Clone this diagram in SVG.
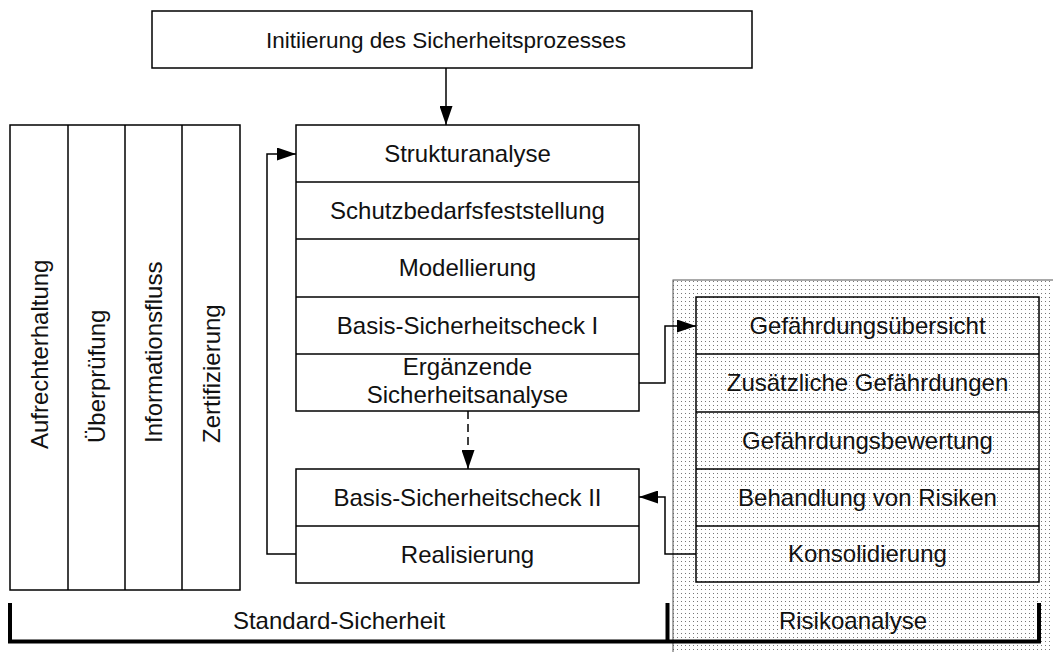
<svg xmlns="http://www.w3.org/2000/svg" width="1053" height="652" viewBox="0 0 1053 652">
  <defs>
    <pattern id="dots" x="0" y="0" width="4" height="4" patternUnits="userSpaceOnUse">
      <rect x="0" y="0" width="4" height="4" fill="#ffffff"/>
      <rect x="1" y="1" width="1" height="1" fill="#777777"/>
    </pattern>
    <marker id="arrow" markerUnits="userSpaceOnUse" markerWidth="19" markerHeight="13" refX="19" refY="6.5" orient="auto">
      <path d="M0,0 L19,6.5 L0,13 Z" fill="#000"/>
    </marker>
  </defs>
  <style>
    .box { fill: #ffffff; stroke: #000; stroke-width: 1.5; }
    .clear { fill: none; stroke: #000; stroke-width: 1.5; }
    .sep { stroke: #000; stroke-width: 1.5; }
    .lbl { font-family: "Liberation Sans", Arial, sans-serif; font-size: 24px; fill: #111; text-anchor: middle; }
    .title { font-size: 22.5px; }
    .vlbl { font-family: "Liberation Sans", Arial, sans-serif; font-size: 24px; fill: #111; text-anchor: start; }
    .conn { fill: none; stroke: #000; stroke-width: 1.5; }
    .brace { fill: none; stroke: #000; stroke-width: 4; stroke-linejoin: miter; }
  </style>

  <rect width="1053" height="652" fill="#ffffff"/>

  <!-- risk analysis background area -->
  <g id="risk-area">
    <rect x="673" y="280" width="390" height="380" fill="url(#dots)" stroke="#555" stroke-width="1"/>
  </g>

  <!-- start box -->
  <g id="init">
    <rect class="box" x="152" y="11" width="600" height="57"/>
    <text class="lbl title" x="446" y="47.5">Initiierung des Sicherheitsprozesses</text>
  </g>

  <!-- accompanying activities -->
  <g id="activities">
    <rect class="box" x="10" y="125" width="230" height="465"/>
    <line class="sep" x1="68" y1="125" x2="68" y2="590"/>
    <line class="sep" x1="125" y1="125" x2="125" y2="590"/>
    <line class="sep" x1="182" y1="125" x2="182" y2="590"/>
    <text class="vlbl" transform="translate(48,449) rotate(-90)">Aufrechterhaltung</text>
    <text class="vlbl" transform="translate(105,443) rotate(-90)">Überprüfung</text>
    <text class="vlbl" transform="translate(162,443) rotate(-90)">Informationsfluss</text>
    <text class="vlbl" transform="translate(219.5,443) rotate(-90)">Zertifizierung</text>
  </g>

  <!-- main process steps -->
  <g id="process">
    <rect class="box" x="296" y="125" width="343" height="286"/>
    <line class="sep" x1="296" y1="182" x2="639" y2="182"/>
    <line class="sep" x1="296" y1="239" x2="639" y2="239"/>
    <line class="sep" x1="296" y1="297" x2="639" y2="297"/>
    <line class="sep" x1="296" y1="354" x2="639" y2="354"/>
    <text class="lbl" x="467.5" y="161.5">Strukturanalyse</text>
    <text class="lbl" x="467.5" y="218.5">Schutzbedarfsfeststellung</text>
    <text class="lbl" x="467.5" y="276">Modellierung</text>
    <text class="lbl" x="467.5" y="333.5">Basis-Sicherheitscheck I</text>
    <text class="lbl" x="467.5" y="375">Ergänzende</text>
    <text class="lbl" x="467.5" y="403">Sicherheitsanalyse</text>
  </g>

  <g id="implementation">
    <rect class="box" x="296" y="469" width="343" height="114"/>
    <line class="sep" x1="296" y1="526" x2="639" y2="526"/>
    <text class="lbl" x="467.5" y="505.5">Basis-Sicherheitscheck II</text>
    <text class="lbl" x="467.5" y="562.5">Realisierung</text>
  </g>

  <!-- risk analysis steps -->
  <g id="risk-steps">
    <rect class="clear" x="696" y="297" width="343" height="285"/>
    <line class="sep" x1="696" y1="354" x2="1039" y2="354"/>
    <line class="sep" x1="696" y1="412" x2="1039" y2="412"/>
    <line class="sep" x1="696" y1="469" x2="1039" y2="469"/>
    <line class="sep" x1="696" y1="526" x2="1039" y2="526"/>
    <text class="lbl" x="867.5" y="333.5">Gefährdungsübersicht</text>
    <text class="lbl" x="867.5" y="391">Zusätzliche Gefährdungen</text>
    <text class="lbl" x="867.5" y="448.5">Gefährdungsbewertung</text>
    <text class="lbl" x="867.5" y="505.5">Behandlung von Risiken</text>
    <text class="lbl" x="867.5" y="562">Konsolidierung</text>
  </g>

  <!-- connectors -->
  <g id="connectors">
    <path class="conn" d="M446,68 V125" marker-end="url(#arrow)"/>
    <path class="conn" d="M296,554 H267 V154 H296" marker-end="url(#arrow)"/>
    <path class="conn" d="M468,411 V469" stroke-dasharray="8,5" marker-end="url(#arrow)"/>
    <path class="conn" d="M639,383 H665 V326 H696" marker-end="url(#arrow)"/>
    <path class="conn" d="M696,554 H665 V497 H639" marker-end="url(#arrow)"/>
  </g>

  <!-- bottom brackets -->
  <g id="brackets">
    <path class="brace" d="M10,603 V641.5 H1039 V603"/>
    <line class="brace" x1="667.5" y1="603" x2="667.5" y2="641.5"/>
    <text class="lbl" x="339" y="629">Standard-Sicherheit</text>
    <text class="lbl" x="853" y="629">Risikoanalyse</text>
  </g>
</svg>
